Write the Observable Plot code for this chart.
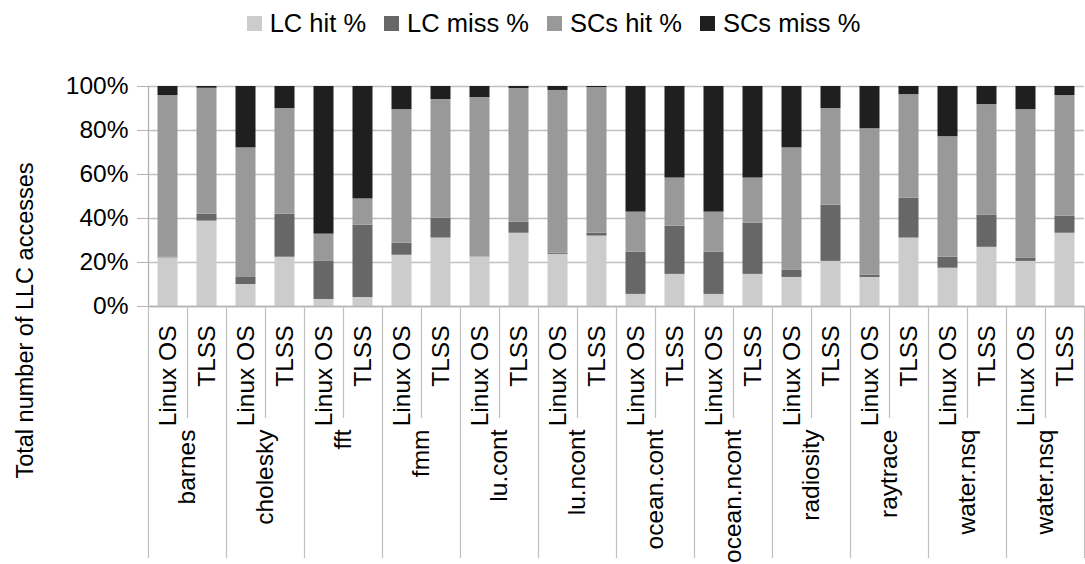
<!DOCTYPE html>
<html>
<head>
<meta charset="utf-8">
<script src="https://cdn.jsdelivr.net/npm/d3@7"></script>
<script src="https://cdn.jsdelivr.net/npm/@observablehq/plot@0.6"></script>
<style>
  html, body { margin: 0; padding: 0; background: #fff; }
  body { width: 1085px; height: 564px; overflow: hidden; font-family: "Liberation Sans", Arial, sans-serif; }
  #legend { height: 60px; display: flex; justify-content: center; align-items: flex-start; padding-left: 22px; box-sizing: border-box; }
  #legend .item { display: flex; align-items: center; margin: 0 9px; margin-top: 9px; font-size: 25.5px; color: #000; }
  #legend .sw { width: 15px; height: 15px; margin-right: 8px; }
  #chart svg { display: block; }
</style>
</head>
<body>
<div id="legend"></div>
<div id="chart"></div>
<script>
const benchmarks = ["barnes", "cholesky", "fft", "fmm", "lu.cont", "lu.ncont", "ocean.cont", "ocean.ncont", "radiosity", "raytrace", "water.nsq", "water.nsq"];
const configs = ["Linux OS", "TLSS"];
const series = ["LC hit %", "LC miss %", "SCs hit %", "SCs miss %"];
const colors = ["#cccccc", "#676767", "#999999", "#1f1f1f"];
const yTicks = [0, 20, 40, 60, 80, 100];
const yLabel = "Total number of LLC accesses";

const lcHit  = [22.1, 38.8, 10.0, 22.4, 3.2, 4.1, 23.3, 31.1, 22.4, 33.3, 23.7, 32.0, 5.5, 14.6, 5.5, 14.6, 13.2, 20.5, 13.2, 31.1, 17.4, 26.9, 20.5, 33.3];
const lcMiss = [0.4, 3.2, 3.2, 19.6, 17.3, 32.9, 5.5, 9.1, 0.1, 5.1, 0.5, 1.3, 19.2, 21.9, 19.2, 23.3, 3.2, 25.6, 1.0, 18.2, 5.0, 14.7, 1.4, 7.8];
const scHit  = [73.4, 57.2, 58.9, 48.0, 12.4, 11.9, 60.7, 53.9, 72.5, 60.7, 74.0, 66.2, 18.2, 21.9, 18.2, 20.5, 55.7, 43.9, 66.6, 47.0, 54.8, 50.2, 67.6, 54.8];
const scMiss = [4.1, 0.8, 27.9, 10.0, 67.1, 51.1, 10.5, 5.9, 5.0, 0.9, 1.8, 0.5, 57.1, 41.6, 57.1, 41.6, 27.9, 10.0, 19.2, 3.7, 22.8, 8.2, 10.5, 4.1];

const seriesValues = [lcHit, lcMiss, scHit, scMiss];
const nBars = benchmarks.length * configs.length;

// Build table
const rows = [];
for (let i = 0; i < nBars; i++) {
  series.forEach((s, k) => {
    rows.push({idx: i, bench: benchmarks[Math.floor(i / 2)], config: configs[i % 2], series: s, value: seriesValues[k][i]});
  });
}
const barLabels = d3.range(nBars).map(i => ({idx: i + 0.5, label: configs[i % 2]}));
const groupLabels = benchmarks.map((b, k) => ({idx: k * 2 + 1, label: b}));
const innerSeps = benchmarks.map((b, k) => k * 2 + 1);
const groupSeps = d3.range(benchmarks.length + 1).map(k => k * 2);

// Legend
const legend = document.getElementById("legend");
series.forEach((s, k) => {
  const it = document.createElement("div");
  it.className = "item";
  const sw = document.createElement("span");
  sw.className = "sw";
  sw.style.background = colors[k];
  it.appendChild(sw);
  it.appendChild(document.createTextNode(s));
  legend.appendChild(it);
});

const FS = 24.5;
const XFS = 24.5;
const gridColor = "#c0c0c0";
const axisColor = "#b3b3b3";

const chart = Plot.plot({
  width: 1085,
  height: 504,
  marginTop: 26,
  marginBottom: 258,
  marginLeft: 148,
  marginRight: 1,
  style: {fontFamily: "Liberation Sans, Arial, sans-serif", fontSize: FS + "px", color: "#000", background: "#fff"},
  x: {type: "linear", domain: [0, nBars], axis: null},
  y: {domain: [0, 100], axis: null},
  color: {domain: series, range: colors},
  marks: [
    Plot.ruleY(yTicks, {stroke: gridColor, strokeWidth: 1.3}),
    Plot.axisY({ticks: yTicks, tickSize: 11, tickPadding: 9, tickFormat: d => d + "%", stroke: axisColor, fill: "#000", fontSize: FS, label: null}),
    Plot.rectY(rows, {x1: "idx", x2: d => d.idx + 1, y: "value", fill: "series", insetLeft: 9.5, insetRight: 9.5, order: series}),
    Plot.ruleX([0], {stroke: axisColor, strokeWidth: 1.3}),
    Plot.ruleY([0], {stroke: axisColor, strokeWidth: 1.3}),
    Plot.ruleX(innerSeps, {stroke: gridColor, strokeWidth: 1.2, insetTop: 220, insetBottom: -112}),
    Plot.ruleX(groupSeps, {stroke: gridColor, strokeWidth: 1.2, insetTop: 220, insetBottom: -252}),
    Plot.text(barLabels, {x: "idx", text: "label", frameAnchor: "bottom", dy: 19, rotate: -90, textAnchor: "end", lineAnchor: "middle", fontSize: XFS, fill: "#000"}),
    Plot.text(groupLabels, {x: "idx", text: "label", frameAnchor: "bottom", dy: 123, rotate: -90, textAnchor: "end", lineAnchor: "middle", fontSize: XFS, fill: "#000"}),
    Plot.text([yLabel], {frameAnchor: "left", dx: -123, dy: 124, rotate: -90, textAnchor: "middle", lineAnchor: "middle", fontSize: 23.5, fill: "#000"})
  ]
});
document.getElementById("chart").appendChild(chart);
</script>
</body>
</html>
